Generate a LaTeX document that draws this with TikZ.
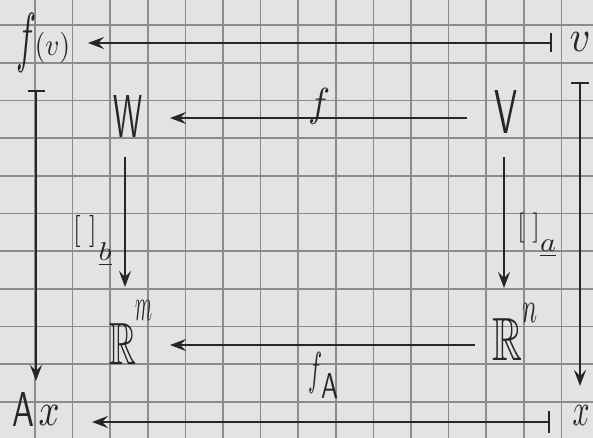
\documentclass[tikz,border=0pt]{standalone}
\usepackage{amssymb}
\usetikzlibrary{arrows.meta}
\begin{document}
\begin{tikzpicture}[x=1pt,y=-1pt,
  txt/.style={inner sep=0pt, outer sep=0pt, text=black!85},
  arr/.style={line width=1.3pt, draw=black!85, -{Stealth[length=16pt,width=12pt,inset=6pt]}},
  maparr/.style={line width=1.3pt, draw=black!85, {Bar[width=#1,line width=1.8pt]}-{Stealth[length=16pt,width=12pt,inset=6pt]}},
  gridln/.style={line width=1.7pt, draw=black!45}]
\useasboundingbox (0,0) rectangle (593,438);
\fill[black!11] (0,0) rectangle (593,438);
\foreach \k in {0,...,14} \draw[gridln] ({35+37.6*\k},0) -- ({35+37.6*\k},438);
\foreach \k in {0,...,10} \draw[gridln] (0,{25+37.7*\k}) -- (593,{25+37.7*\k});

% labels
\node[txt] (f1) at (27,42.5) {\resizebox*{20pt}{59pt}{$f$}};
\node[txt] (pv) at (52.5,47.5) {\resizebox*{35pt}{31pt}{$(v)$}};
\node[txt] (v) at (580,42.5) {\resizebox{21pt}{19pt}{$v$}};
\node[txt] (W) at (127.5,116) {\resizebox{29pt}{42pt}{\sffamily W}};
\node[txt] (V) at (505.5,111.5) {\resizebox{23pt}{43pt}{\sffamily V}};
\node[txt] (fm) at (319,106) {\resizebox*{22pt}{36pt}{$f$}};
\node[txt] (bl) at (85,231) {\resizebox*{24pt}{32pt}{[\;]}};
\node[txt] (bs) at (105,254.5) {\resizebox*{13pt}{23pt}{$\underline{b}$}};
\node[txt] (m) at (143.5,310) {\resizebox{17pt}{20pt}{$m$}};
\node[txt] (Rl) at (123.5,343.5) {\resizebox{27pt}{41pt}{$\mathbb{R}$}};
\node[txt] (br) at (528.5,228) {\resizebox*{23pt}{30pt}{[\;]}};
\node[txt] (as) at (548,248.5) {\resizebox*{16pt}{17pt}{$\underline{a}$}};
\node[txt] (n) at (529.5,312.5) {\resizebox{15pt}{19pt}{$n$}};
\node[txt] (Rr) at (507,339) {\resizebox{30pt}{42pt}{$\mathbb{R}$}};
\node[txt] (fA1) at (315,372.5) {\resizebox*{14pt}{41pt}{$f$}};
\node[txt] (fA2) at (329.5,385.5) {\resizebox{17pt}{25pt}{\sffamily A}};
\node[txt] (A) at (24,409) {\resizebox{22pt}{34pt}{\sffamily A}};
\node[txt] (xb) at (49,415) {\resizebox{21pt}{20pt}{$x$}};
\node[txt] (xr) at (581,415) {\resizebox{17pt}{20pt}{$x$}};

% arrow ends
\coordinate (tS) at (552,43);  \coordinate (tE) at (88,43);
\coordinate (lS) at (36,90);   \coordinate (lE) at (36,381);
\coordinate (rS) at (580,82);  \coordinate (rE) at (580,386);
\coordinate (bS) at (550,422); \coordinate (bE) at (92,422);
\coordinate (mS) at (467,118); \coordinate (mE) at (170,118);
\coordinate (wS) at (125,157); \coordinate (wE) at (125,287);
\coordinate (vS) at (504,157); \coordinate (vE) at (504,288);
\coordinate (nS) at (475,345); \coordinate (nE) at (170,345);

\draw[maparr=19pt] (tS) -- (tE);
\draw[maparr=17pt] (lS) -- (lE);
\draw[maparr=18pt] (rS) -- (rE);
\draw[maparr=22pt] (bS) -- (bE);
\draw[arr] (mS) -- (mE);
\draw[arr] (wS) -- (wE);
\draw[arr] (vS) -- (vE);
\draw[arr] (nS) -- (nE);
\end{tikzpicture}
\end{document}
